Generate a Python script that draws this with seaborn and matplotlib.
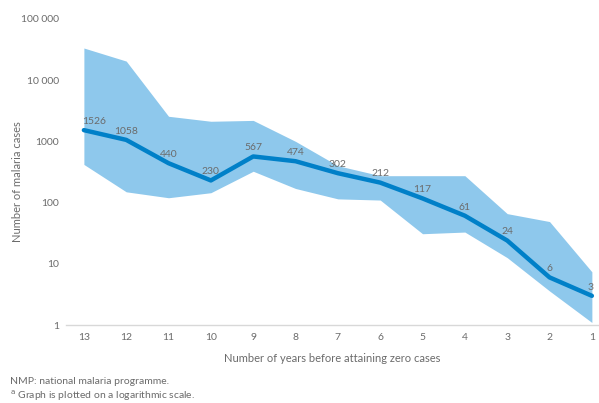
import matplotlib
matplotlib.use("Agg")
import matplotlib.pyplot as plt
import seaborn as sns
import numpy as np
import pandas as pd

# Data
years = [13, 12, 11, 10, 9, 8, 7, 6, 5, 4, 3, 2, 1]
median_cases = [1526, 1058, 440, 230, 567, 474, 302, 212, 117, 61, 24, 6, 3]
upper_cases = [33500, 20500, 2570, 2130, 2200, 1000, 400, 275, 275, 275, 66, 49, 7.4]
lower_cases = [420, 150, 120, 145, 325, 170, 115, 110, 31, 33, 12.6, 3.6, 1.1]
ytick_vals = [1, 10, 100, 1000, 10000, 100000]
ytick_labels = ["1", "10", "100", "1000", "10 000", "100 000"]

sns.set_theme(style="white")
plt.rcParams['font.family'] = ['Lato', 'DejaVu Sans']

line_color = "#0080c8"
band_color = "#8ec8ec"
text_gray = "#6b6b6b"

df = pd.DataFrame({"pos": np.arange(len(years)), "median": median_cases})

fig = plt.figure(figsize=(5.99, 4.03), dpi=100)
ax = fig.add_axes([0.110, 0.1935, 0.888, 0.7595])

ax.fill_between(df["pos"], lower_cases, upper_cases, color=band_color, linewidth=0, zorder=1)
sns.lineplot(data=df, x="pos", y="median", color=line_color, linewidth=3.2, ax=ax, zorder=3)

ax.set_yscale("log")
ax.set_ylim(1, 100000)
ax.set_xlim(-0.425, 12.14)
ax.set_yticks(ytick_vals)
ax.set_yticklabels(ytick_labels)
ax.yaxis.set_minor_locator(matplotlib.ticker.NullLocator())
ax.set_xticks(df["pos"])
ax.set_xticklabels([str(y) for y in years])
ax.tick_params(axis="both", colors=text_gray, labelsize=7.5, length=0)
ax.tick_params(axis="x", pad=6)
ax.tick_params(axis="y", pad=5)

for s in ["top", "right", "left"]:
    ax.spines[s].set_visible(False)
ax.spines["bottom"].set_color("#d8d8d8")
ax.spines["bottom"].set_linewidth(1)

ax.set_xlabel("Number of years before attaining zero cases", color=text_gray, fontsize=8, labelpad=8)
ax.set_ylabel("Number of malaria cases", color=text_gray, fontsize=8)
ax.yaxis.set_label_coords(-0.08, 0.47)

n = len(years)
for i, v in enumerate(median_cases):
    ha = "center"
    dx = 0
    if i == 0:
        ha = "left"
        dx = -1
    elif i == n - 1:
        ha = "right"
        dx = 1
    ax.annotate(str(v), (i, v), xytext=(dx, 3), textcoords="offset points",
                ha=ha, va="bottom", fontsize=7.5, color=text_gray, zorder=4)

fig.text(0.017, 1 - 382 / 403, "NMP: national malaria programme.", fontsize=7.5, color=text_gray, va="center")
fig.text(0.017, 1 - 396 / 403, "$^{\\mathrm{a}}$ Graph is plotted on a logarithmic scale.", fontsize=7.5, color=text_gray, va="center")

fig.savefig("out.png", dpi=100)
